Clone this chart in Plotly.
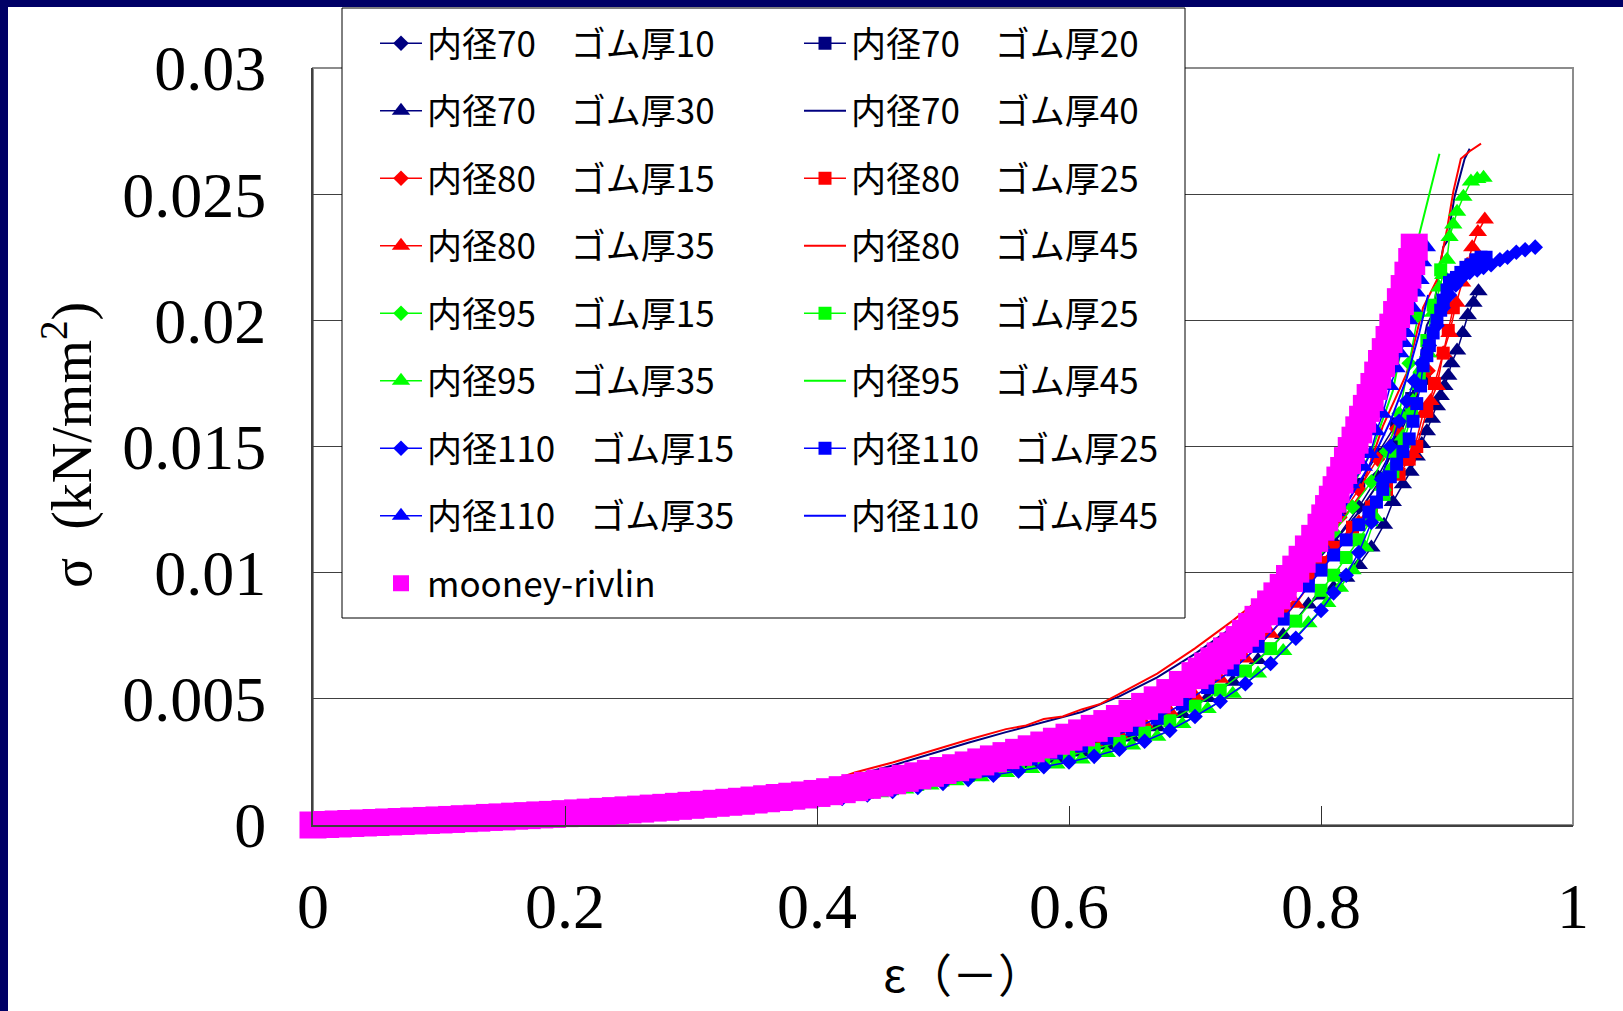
import plotly.graph_objects as go

# ---------------------------------------------------------------
# Compression test data: stress σ (kN/mm²) against strain ε (-)
# ---------------------------------------------------------------

# strain points shared by the marker series (low / middle range)
eps_grid_a = [0, 0.1, 0.2, 0.3, 0.35, 0.37, 0.39, 0.41, 0.43, 0.45, 0.47, 0.49, 0.51, 0.53,
              0.55, 0.57, 0.59, 0.61, 0.63, 0.65, 0.67, 0.69, 0.71, 0.73, 0.75, 0.77, 0.79]
eps_grid_b = [0, 0.1, 0.2, 0.3, 0.36, 0.38, 0.40, 0.42, 0.44, 0.46, 0.48, 0.50, 0.52, 0.54,
              0.56, 0.58, 0.60, 0.62, 0.64, 0.66, 0.68, 0.70, 0.72, 0.74, 0.76, 0.78, 0.80]

# 内径70
eps_70_10_tail = [0.81, 0.83, 0.845, 0.86, 0.87]
sig_70_10 = [0, .00015, .0004, .0007, .0009, .00098, .00107, .00119, .00133, .00149,
             .00166, .00185, .00206, .00229, .00254, .0028, .0031, .00343, .00381, .00421,
             .00472, .0053, .00598, .00675, .0077, .0088, .0101,
             .0112, .0126, .0138, .0152, .0163]

eps_70_20_tail = [0.815, 0.83, 0.845, 0.86, 0.872, 0.882]
sig_70_20 = [0, .00017, .00042, .00072, .00096, .00106, .00117, .00131, .00148, .00166,
             .00186, .00207, .00229, .00253, .00279, .00307, .00338, .00372, .0041, .00457,
             .0051, .00575, .0065, .00738, .0085, .00985, .0114,
             .0124, .0135, .0147, .0159, .0169, .0177]

eps_70_30_tail = [0.80, 0.81, 0.82, 0.83, 0.84, 0.85, 0.857, 0.865, 0.871, 0.876, 0.880,
                  0.884, 0.888, 0.892, 0.895, 0.898, 0.901, 0.9035, 0.908, 0.9125, 0.9165,
                  0.921, 0.925]
sig_70_30 = [0, .00014, .00033, .00061, .00081, .00089, .00098, .00108, .00121, .00136,
             .00152, .00169, .00187, .00205, .00223, .00242, .00263, .00287, .00315, .00347,
             .00387, .0044, .00503, .00568, .00654, .00753, .00874,
             .0091, .0094, .0098, .0103, .0110, .0119, .0128, .0135, .0140, .0146, .0151,
             .0156, .0161, .0166, .0170, .0174, .0178, .0183, .0188, .0195, .0202, .0207,
             .02115]

eps_70_40 = [0, 0.05, 0.1, 0.15, 0.2, 0.25, 0.3, 0.35, 0.4, 0.43, 0.46, 0.49, 0.52, 0.55,
             0.58, 0.61, 0.64, 0.67, 0.70, 0.73, 0.76, 0.79, 0.81, 0.83, 0.845, 0.86, 0.875,
             0.884, 0.889, 0.894, 0.897, 0.901, 0.903, 0.906, 0.910, 0.914, 0.918]
sig_70_40 = [0, .00011, .00024, .00038, .00053, .0007, .0009, .00114, .00148, .00196,
             .00236, .00282, .00326, .00368, .00408, .00448, .0051, .00585, .00678, .00785,
             .0089, .0102, .0112, .0124, .0135, .0152, .0175, .0198, .0203, .0220,
             .0229, .0232, .0240, .0249, .0257, .0264, .0268]

# 内径80
eps_80_15_tail = [0.815, 0.83, 0.845, 0.86, 0.872, 0.885]
sig_80_15 = [0, .00014, .00038, .00067, .00089, .00097, .00107, .00121, .00138, .00156,
             .00176, .00197, .00219, .00243, .00269, .00297, .00328, .00362, .004, .00446,
             .005, .00565, .0064, .00728, .0084, .0097, .0112,
             .0122, .0133, .0145, .0157, .0167, .0180]

eps_80_25_tail = [0.80, 0.81, 0.825, 0.84, 0.852, 0.862, 0.870, 0.876, 0.884, 0.890, 0.897,
                  0.901, 0.905]
sig_80_25 = [0, .00016, .0004, .0007, .0009, .001, .00109, .00121, .00136, .00152,
             .0017, .00188, .00208, .00229, .00251, .00274, .003, .00329, .00362, .00398,
             .00445, .00503, .00571, .00644, .0074, .00854, .00991,
             .0104, .0110, .0118, .0126, .0133, .0139, .0145, .0150, .0164, .0175, .0187,
             .0196, .0205]

eps_80_35_tail = [0.81, 0.82, 0.83, 0.84, 0.85, 0.858, 0.866, 0.873, 0.881, 0.887, 0.892,
                  0.897, 0.902, 0.9075, 0.912, 0.916, 0.920, 0.9245, 0.930]
sig_80_35 = [0, .00015, .00037, .00065, .00091, .001, .0011, .00123, .00138, .00154,
             .00172, .00191, .0021, .0023, .00251, .00274, .00299, .00328, .00361, .00401,
             .0045, .00511, .0058, .0066, .00758, .00877, .01015,
             .0107, .0113, .0120, .0127, .0135, .0140, .0144, .0147, .0163, .0168, .0174,
             .0187, .0195, .0207, .0215, .0222, .0229, .0235, .0240]

eps_80_45 = [0, 0.05, 0.1, 0.15, 0.2, 0.25, 0.3, 0.35, 0.4, 0.43, 0.46, 0.49, 0.52, 0.55,
             0.565, 0.58, 0.595, 0.61, 0.625, 0.64, 0.67, 0.70, 0.73, 0.76, 0.79, 0.81, 0.83,
             0.849, 0.868, 0.881, 0.892, 0.900, 0.905, 0.911, 0.918, 0.927]
sig_80_45 = [0, .00012, .00026, .0004, .00056, .00074, .00095, .0012, .00155, .00208,
             .00248, .00294, .00338, .0038, .00393, .0042, .0043, .00458, .0048, .0052,
             .006, .007, .0081, .0093, .0106, .0116, .0130, .0158, .0179, .0205,
             .0216, .0236, .0251, .0264, .0267, .0270]

# 内径95
eps_95_15_tail = [0.80, 0.81, 0.825, 0.84, 0.852, 0.862, 0.870, 0.877]
sig_95_15 = [0, .00016, .00041, .00072, .00094, .00104, .00113, .00126, .00141, .00158,
             .00176, .00195, .00216, .00238, .00261, .00286, .00314, .00344, .00379, .00417,
             .00467, .00526, .00596, .00672, .00772, .00892, .01035,
             .0110, .0116, .0126, .0136, .0148, .0163, .0183, .0202]

eps_95_25_tail = [0.81, 0.82, 0.83, 0.84, 0.85, 0.857, 0.866, 0.872, 0.878, 0.884, 0.889,
                  0.895]
sig_95_25 = [0, .00014, .00034, .00061, .00085, .00093, .00103, .00114, .00129, .00144,
             .00161, .00178, .00196, .00214, .00233, .00253, .00275, .003, .00331, .00367,
             .00413, .00471, .00535, .0061, .00699, .00808, .0093,
             .0099, .0106, .0113, .0121, .0131, .0140, .0152, .0163, .0177, .0192, .0206,
             .0220]

eps_95_35_tail = [0.805, 0.815, 0.825, 0.835, 0.843, 0.849, 0.855, 0.860, 0.865, 0.869,
                  0.873, 0.877, 0.880, 0.885, 0.889, 0.894, 0.897, 0.900, 0.902, 0.905,
                  0.908, 0.913, 0.919, 0.924, 0.929]
sig_95_35 = [0, .00013, .00032, .0006, .00075, .00082, .0009, .001, .00112, .00126,
             .00141, .00157, .00173, .00189, .00206, .00222, .0024, .0026, .00285, .00315,
             .0035, .004, .0046, .0052, .006, .0069, .008,
             .0088, .0094, .0101, .0110, .0122, .0134, .0141, .0147, .0154, .0161,
             .0168, .0174, .0181, .0187, .0203, .0213, .0218, .0224, .0233, .0238,
             .0243, .0249, .0255, .0256, .02565]

eps_95_45 = [0, 0.1, 0.2, 0.3, 0.4, 0.45, 0.5, 0.55, 0.6, 0.65, 0.7, 0.75, 0.78, 0.8, 0.82,
             0.84, 0.857, 0.870, 0.878, 0.886, 0.894]
sig_95_45 = [0, .0002, .00044, .00077, .00124, .00164, .00213, .00272, .00345, .0044, .0059,
             .0081, .0099, .0114, .0130, .0148, .0172, .0205, .0234, .0250, .0266]

# 内径110
eps_110_15_tail = [0.81, 0.82, 0.83, 0.84, 0.848, 0.855, 0.862, 0.868, 0.874, 0.880, 0.886,
                   0.892, 0.897, 0.902, 0.907, 0.912, 0.918, 0.924, 0.929, 0.935, 0.942,
                   0.948, 0.955, 0.962, 0.970]
sig_110_15 = [0, .00012, .0003, .00056, .00078, .00086, .00095, .00105, .00119, .00133,
              .00149, .00165, .00181, .00197, .00214, .00231, .0025, .00272, .003, .00332,
              .00375, .0043, .0049, .0056, .0064, .0074, .0085,
              .0092, .0099, .0108, .0120, .0137, .0150, .0160, .0168, .0176, .0183, .0190,
              .0198, .0205, .0210, .0214, .0217, .0219, .0220, .0221, .0222, .0224, .0225,
              .0227, .0228, .0229]

eps_110_25_tail = [0.80, 0.81, 0.82, 0.83, 0.838, 0.844, 0.849, 0.855, 0.860, 0.865, 0.870,
                   0.873, 0.876, 0.879, 0.881, 0.884, 0.886, 0.889, 0.892, 0.895, 0.897,
                   0.900, 0.902, 0.905, 0.9075, 0.911, 0.915, 0.919, 0.923, 0.927, 0.931]
sig_110_25 = [0, .00015, .00036, .00064, .00087, .00096, .00105, .00116, .0013, .00146,
              .00163, .00181, .002, .0022, .0024, .00262, .00286, .00313, .00344, .00379,
              .00423, .00479, .00545, .00615, .00708, .00816, .00947,
              .0101, .0107, .0113, .0119, .0124, .0128, .0133, .0138, .0143, .0148, .0153,
              .0160, .0167, .0174, .0182, .0186, .0190, .0195, .0200, .0204, .0208, .0212,
              .0215, .0216, .0217, .0219, .0221, .0222, .0224, .0225, .0225]

eps_110_35_tail = [0.812, 0.824, 0.834, 0.839, 0.844, 0.849, 0.855, 0.860, 0.863, 0.866,
                   0.868, 0.870, 0.873, 0.876, 0.879, 0.881, 0.884]
sig_110_35 = [0, .00018, .00042, .00072, .00099, .00108, .00119, .00133, .00149, .00167,
              .00186, .00206, .00227, .0025, .00273, .003, .00328, .00361, .00398, .00442,
              .0049, .0056, .00634, .0072, .00828, .00959, .01115,
              .0124, .0135, .0142, .0147, .0156, .0163, .0174, .0181, .0187, .0191,
              .0195, .0200, .0205, .0211, .0216, .0223, .0229]

eps_110_45 = [0, 0.1, 0.2, 0.3, 0.4, 0.45, 0.5, 0.55, 0.6, 0.65, 0.7, 0.75, 0.78, 0.8, 0.82,
              0.84, 0.855, 0.868, 0.878, 0.885]
sig_110_45 = [0, .00019, .00043, .00075, .0012, .0016, .0021, .0027, .0034, .0043, .0058,
              .0080, .0097, .0111, .0127, .0144, .0160, .0177, .0195, .0210]

# Mooney-Rivlin model curve
eps_mr = [0.00, 0.01, 0.02, 0.03, 0.04, 0.05, 0.06, 0.07, 0.08, 0.09,
          0.10, 0.11, 0.12, 0.13, 0.14, 0.15, 0.16, 0.17, 0.18, 0.19,
          0.20, 0.21, 0.22, 0.23, 0.24, 0.25, 0.26, 0.27, 0.28, 0.29,
          0.30, 0.31, 0.32, 0.33, 0.34, 0.35, 0.36, 0.37, 0.38, 0.39,
          0.40, 0.41, 0.42, 0.43, 0.44, 0.45, 0.46, 0.47, 0.48, 0.49,
          0.50, 0.51, 0.52, 0.53, 0.54, 0.55, 0.56, 0.57, 0.58, 0.59,
          0.60, 0.61, 0.62, 0.63, 0.64, 0.65, 0.66, 0.67, 0.68, 0.69,
          0.70, 0.705, 0.71, 0.715, 0.72, 0.725, 0.73, 0.735, 0.74, 0.745,
          0.75, 0.755, 0.76, 0.765, 0.77, 0.775, 0.78, 0.785, 0.79, 0.795,
          0.80, 0.803, 0.806, 0.809, 0.812, 0.815, 0.818, 0.821, 0.824, 0.827,
          0.830, 0.833, 0.836, 0.839, 0.842, 0.845, 0.848, 0.851, 0.854, 0.857,
          0.860, 0.863, 0.866, 0.869, 0.872, 0.874]
sig_mr = [0, .00002, .00004, .00006, .00008, .0001, .00012, .00014, .00016, .00018,
          .0002, .00022, .00025, .00027, .0003, .00032, .00035, .00037, .0004, .00042,
          .00045, .00048, .00051, .00054, .00057, .0006, .00063, .00067, .0007, .00074,
          .00078, .00082, .00086, .0009, .00094, .00099, .00104, .00109, .00114, .00119,
          .00125, .00132, .0014, .00148, .00157, .00166, .00175, .00185, .00195, .00205,
          .00216, .00227, .00238, .0025, .00262, .00275, .00288, .00302, .00317, .00332,
          .00348, .00365, .00383, .00402, .00422, .00443, .0047, .00496, .00525, .00557,
          .00592, .0061, .0063, .0065, .0067, .0069, .0071, .00735, .0076, .00787,
          .00815, .00845, .00876, .00908, .00942, .00977, .01014, .01053, .01094, .01136,
          .0118, .01217, .01254, .01291, .01329, .01367, .01405, .01444, .01484, .01525,
          .01566, .01608, .01651, .01694, .01738, .01783, .01829, .01876, .01924, .01973,
          .02023, .02074, .02126, .02179, .02233, .0229]

x_tickvals = [0, 0.2, 0.4, 0.6, 0.8, 1]
x_ticktext = ["0", "0.2", "0.4", "0.6", "0.8", "1"]
y_tickvals = [0, 0.005, 0.01, 0.015, 0.02, 0.025, 0.03]
y_ticktext = ["0", "0.005", "0.01", "0.015", "0.02", "0.025", "0.03"]

NAVY, RED, GREEN, BLUE, MAGENTA = "#000080", "#ff0000", "#00ff00", "#0000ff", "#ff00ff"

# (legend label, x values, y values, colour, marker symbol or None, legend box)
series = [
    ("内径70　ゴム厚10", eps_grid_a + eps_70_10_tail, sig_70_10, NAVY, "diamond", "legend"),
    ("内径70　ゴム厚20", eps_grid_b + eps_70_20_tail, sig_70_20, NAVY, "square", "legend2"),
    ("内径70　ゴム厚30", eps_grid_a + eps_70_30_tail, sig_70_30, NAVY, "triangle-up", "legend"),
    ("内径70　ゴム厚40", eps_70_40, sig_70_40, NAVY, None, "legend2"),
    ("内径80　ゴム厚15", eps_grid_b + eps_80_15_tail, sig_80_15, RED, "diamond", "legend"),
    ("内径80　ゴム厚25", eps_grid_a + eps_80_25_tail, sig_80_25, RED, "square", "legend2"),
    ("内径80　ゴム厚35", eps_grid_b + eps_80_35_tail, sig_80_35, RED, "triangle-up", "legend"),
    ("内径80　ゴム厚45", eps_80_45, sig_80_45, RED, None, "legend2"),
    ("内径95　ゴム厚15", eps_grid_a + eps_95_15_tail, sig_95_15, GREEN, "diamond", "legend"),
    ("内径95　ゴム厚25", eps_grid_b + eps_95_25_tail, sig_95_25, GREEN, "square", "legend2"),
    ("内径95　ゴム厚35", eps_grid_a + eps_95_35_tail, sig_95_35, GREEN, "triangle-up", "legend"),
    ("内径95　ゴム厚45", eps_95_45, sig_95_45, GREEN, None, "legend2"),
    ("内径110　ゴム厚15", eps_grid_b + eps_110_15_tail, sig_110_15, BLUE, "diamond", "legend"),
    ("内径110　ゴム厚25", eps_grid_a + eps_110_25_tail, sig_110_25, BLUE, "square", "legend2"),
    ("内径110　ゴム厚35", eps_grid_b + eps_110_35_tail, sig_110_35, BLUE, "triangle-up", "legend"),
    ("内径110　ゴム厚45", eps_110_45, sig_110_45, BLUE, None, "legend2"),
]

marker_size = {"diamond": 12, "square": 13, "triangle-up": 16}

fig = go.Figure()
for i, (label, xs, ys, colour, symbol, leg) in enumerate(series):
    assert len(xs) == len(ys), label
    if symbol is None:
        fig.add_trace(go.Scatter(
            x=xs, y=ys, name=label, mode="lines", legend=leg, legendgroup=f"g{i}",
            line=dict(color=colour, width=2), cliponaxis=False))
    else:
        fig.add_trace(go.Scatter(
            x=xs, y=ys, name=label, mode="lines+markers", legend=leg, legendgroup=f"g{i}",
            line=dict(color=colour, width=1.5),
            marker=dict(symbol=symbol, size=marker_size[symbol], color=colour,
                        line=dict(width=0)),
            cliponaxis=False))

assert len(eps_mr) == len(sig_mr)
fig.add_trace(go.Scatter(
    x=eps_mr, y=sig_mr, name="mooney-rivlin", mode="markers", legend="legend",
    legendgroup="mr", marker=dict(symbol="square", size=27, color=MAGENTA, line=dict(width=0)),
    cliponaxis=False))

# plot area geometry in pixels (figure 1623 x 1011)
L, R, T, B = 313, 50, 68, 186
W, H = 1623, 1011
pw, ph = W - L - R, H - T - B


def px_x(p):
    return (p - L) / pw


def px_y(p):
    return (H - B - p) / ph


legend_common = dict(
    orientation="v", xanchor="left", yanchor="top", bgcolor="rgba(0,0,0,0)",
    borderwidth=0, traceorder="grouped", tracegroupgap=19, itemsizing="trace",
    itemwidth=42, maxheight=1.0,
    font=dict(family="Noto Sans CJK JP", size=35, color="black"),
)

fig.update_layout(
    width=W, height=H,
    margin=dict(l=L, r=R, t=T, b=B, autoexpand=False),
    paper_bgcolor="white", plot_bgcolor="white",
    showlegend=True,
    legend=dict(x=px_x(375), y=px_y(14), **legend_common),
    legend2=dict(x=px_x(799), y=px_y(14), **legend_common),
    xaxis=dict(
        range=[0, 1], tickvals=x_tickvals, ticktext=x_ticktext, showgrid=False,
        zeroline=False, showline=True, linecolor="#404040", linewidth=2,
        ticks="inside", ticklen=19, tickwidth=1, tickcolor="#303030",
        ticklabelstandoff=24,
        tickfont=dict(family="Liberation Serif", size=64, color="black"),
    ),
    yaxis=dict(
        range=[0, 0.03], tickvals=y_tickvals, ticktext=y_ticktext, showgrid=True,
        gridcolor="#404040", gridwidth=1, zeroline=False, showline=True,
        linecolor="#404040", linewidth=2, ticks="",
        ticklabelstandoff=32,
        tickfont=dict(family="Liberation Serif", size=64, color="black"),
    ),
    annotations=[
        dict(text="σ  (kN/mm<sup>2</sup>)", textangle=-90, xref="paper", yref="paper",
             x=px_x(68), y=px_y(445), xanchor="center", yanchor="middle", showarrow=False,
             font=dict(family="Liberation Serif", size=56, color="black")),
        dict(text="ε（－）", xref="paper", yref="paper", x=px_x(963), y=px_y(972),
             xanchor="center", yanchor="middle", showarrow=False,
             font=dict(family="Noto Sans CJK JP", size=46, color="black")),
    ],
    shapes=[
        # grey frame of the plot area (top / right edges)
        dict(type="rect", xref="paper", yref="paper", x0=0, x1=1, y0=0, y1=1,
             line=dict(color="#8c8c8c", width=2), layer="below"),
        # legend box
        dict(type="rect", xref="paper", yref="paper", x0=px_x(342), x1=px_x(1185),
             y0=px_y(618), y1=px_y(8), fillcolor="white",
             line=dict(color="black", width=1), layer="above"),
        # dark blue page border on the left and top
        dict(type="rect", xref="paper", yref="paper", x0=px_x(-5), x1=px_x(8),
             y0=px_y(H + 5), y1=px_y(-5), fillcolor="#000066", line=dict(width=0),
             layer="above"),
        dict(type="rect", xref="paper", yref="paper", x0=px_x(-5), x1=px_x(W + 5),
             y0=px_y(7), y1=px_y(-5), fillcolor="#000066", line=dict(width=0),
             layer="above"),
    ],
)

fig.write_html("out.html")
